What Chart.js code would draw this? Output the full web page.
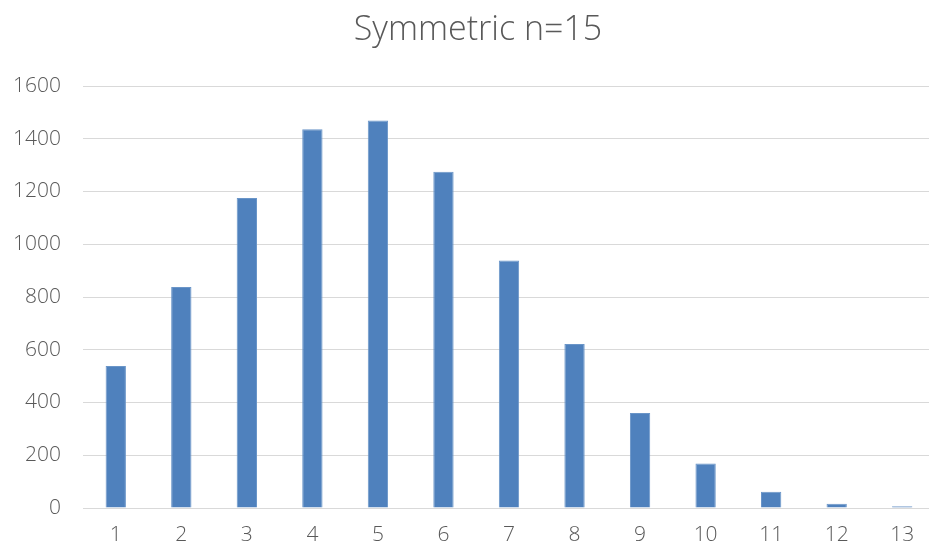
<!DOCTYPE html>
<html>
<head>
<meta charset="utf-8">
<script src="https://cdn.jsdelivr.net/npm/chart.js@4/dist/chart.umd.min.js"></script>
<style>
  html, body { margin: 0; padding: 0; background: #ffffff; overflow: hidden; }
  #wrap { width: 929px; height: 554px; position: relative; overflow: hidden; }
</style>
</head>
<body>
<div id="wrap"><canvas id="c" width="935" height="554"></canvas></div>
<script>
// Chart data
const chartTitle = 'Symmetric n=15';
const categories = ['1', '2', '3', '4', '5', '6', '7', '8', '9', '10', '11', '12', '13'];
const counts = [538, 838, 1175, 1436, 1469, 1275, 938, 622, 360, 169, 62, 16, 7];
const yTicks = [0, 200, 400, 600, 800, 1000, 1200, 1400, 1600];

const textColor = '#595959';
const fontFamily = "'Open Sans', 'Liberation Sans', sans-serif";

// Title drawn centred above the plot
const titlePlugin = {
  id: 'topTitle',
  afterDraw(chart) {
    const ctx = chart.ctx;
    ctx.save();
    ctx.font = '300 34px ' + fontFamily;
    ctx.fillStyle = textColor;
    ctx.textAlign = 'center';
    ctx.textBaseline = 'middle';
    ctx.fillText(chartTitle, 478, 30);
    ctx.restore();
  }
};

new Chart(document.getElementById('c'), {
  type: 'bar',
  data: {
    labels: categories,
    datasets: [{
      data: counts,
      backgroundColor: '#4F81BD',
      borderColor: '#6A95C8',
      borderWidth: 1,
      categoryPercentage: 1.0,
      barPercentage: 0.31
    }]
  },
  options: {
    responsive: false,
    animation: false,
    layout: { padding: { top: 86, left: 0, right: 0, bottom: 0 } },
    plugins: {
      legend: { display: false },
      title: { display: false },
      tooltip: { enabled: false }
    },
    scales: {
      x: {
        grid: { display: false, drawTicks: false },
        border: { display: true, color: '#D9D9D9', width: 1 },
        ticks: {
          color: textColor,
          font: { family: fontFamily, size: 21, weight: 300 },
          padding: 14,
          maxRotation: 0
        },
        afterFit(scale) { scale.height = 46; }
      },
      y: {
        min: 0,
        max: 1600,
        afterBuildTicks(scale) { scale.ticks = yTicks.map(v => ({ value: v })); },
        grid: { color: '#D9D9D9', lineWidth: 1, drawTicks: false },
        border: { display: false },
        ticks: {
          color: textColor,
          font: { family: fontFamily, size: 21, weight: 300 },
          padding: 22,
          callback: (v) => String(v)
        },
        afterFit(scale) { scale.width = 83; }
      }
    }
  },
  plugins: [titlePlugin]
});
</script>
</body>
</html>
